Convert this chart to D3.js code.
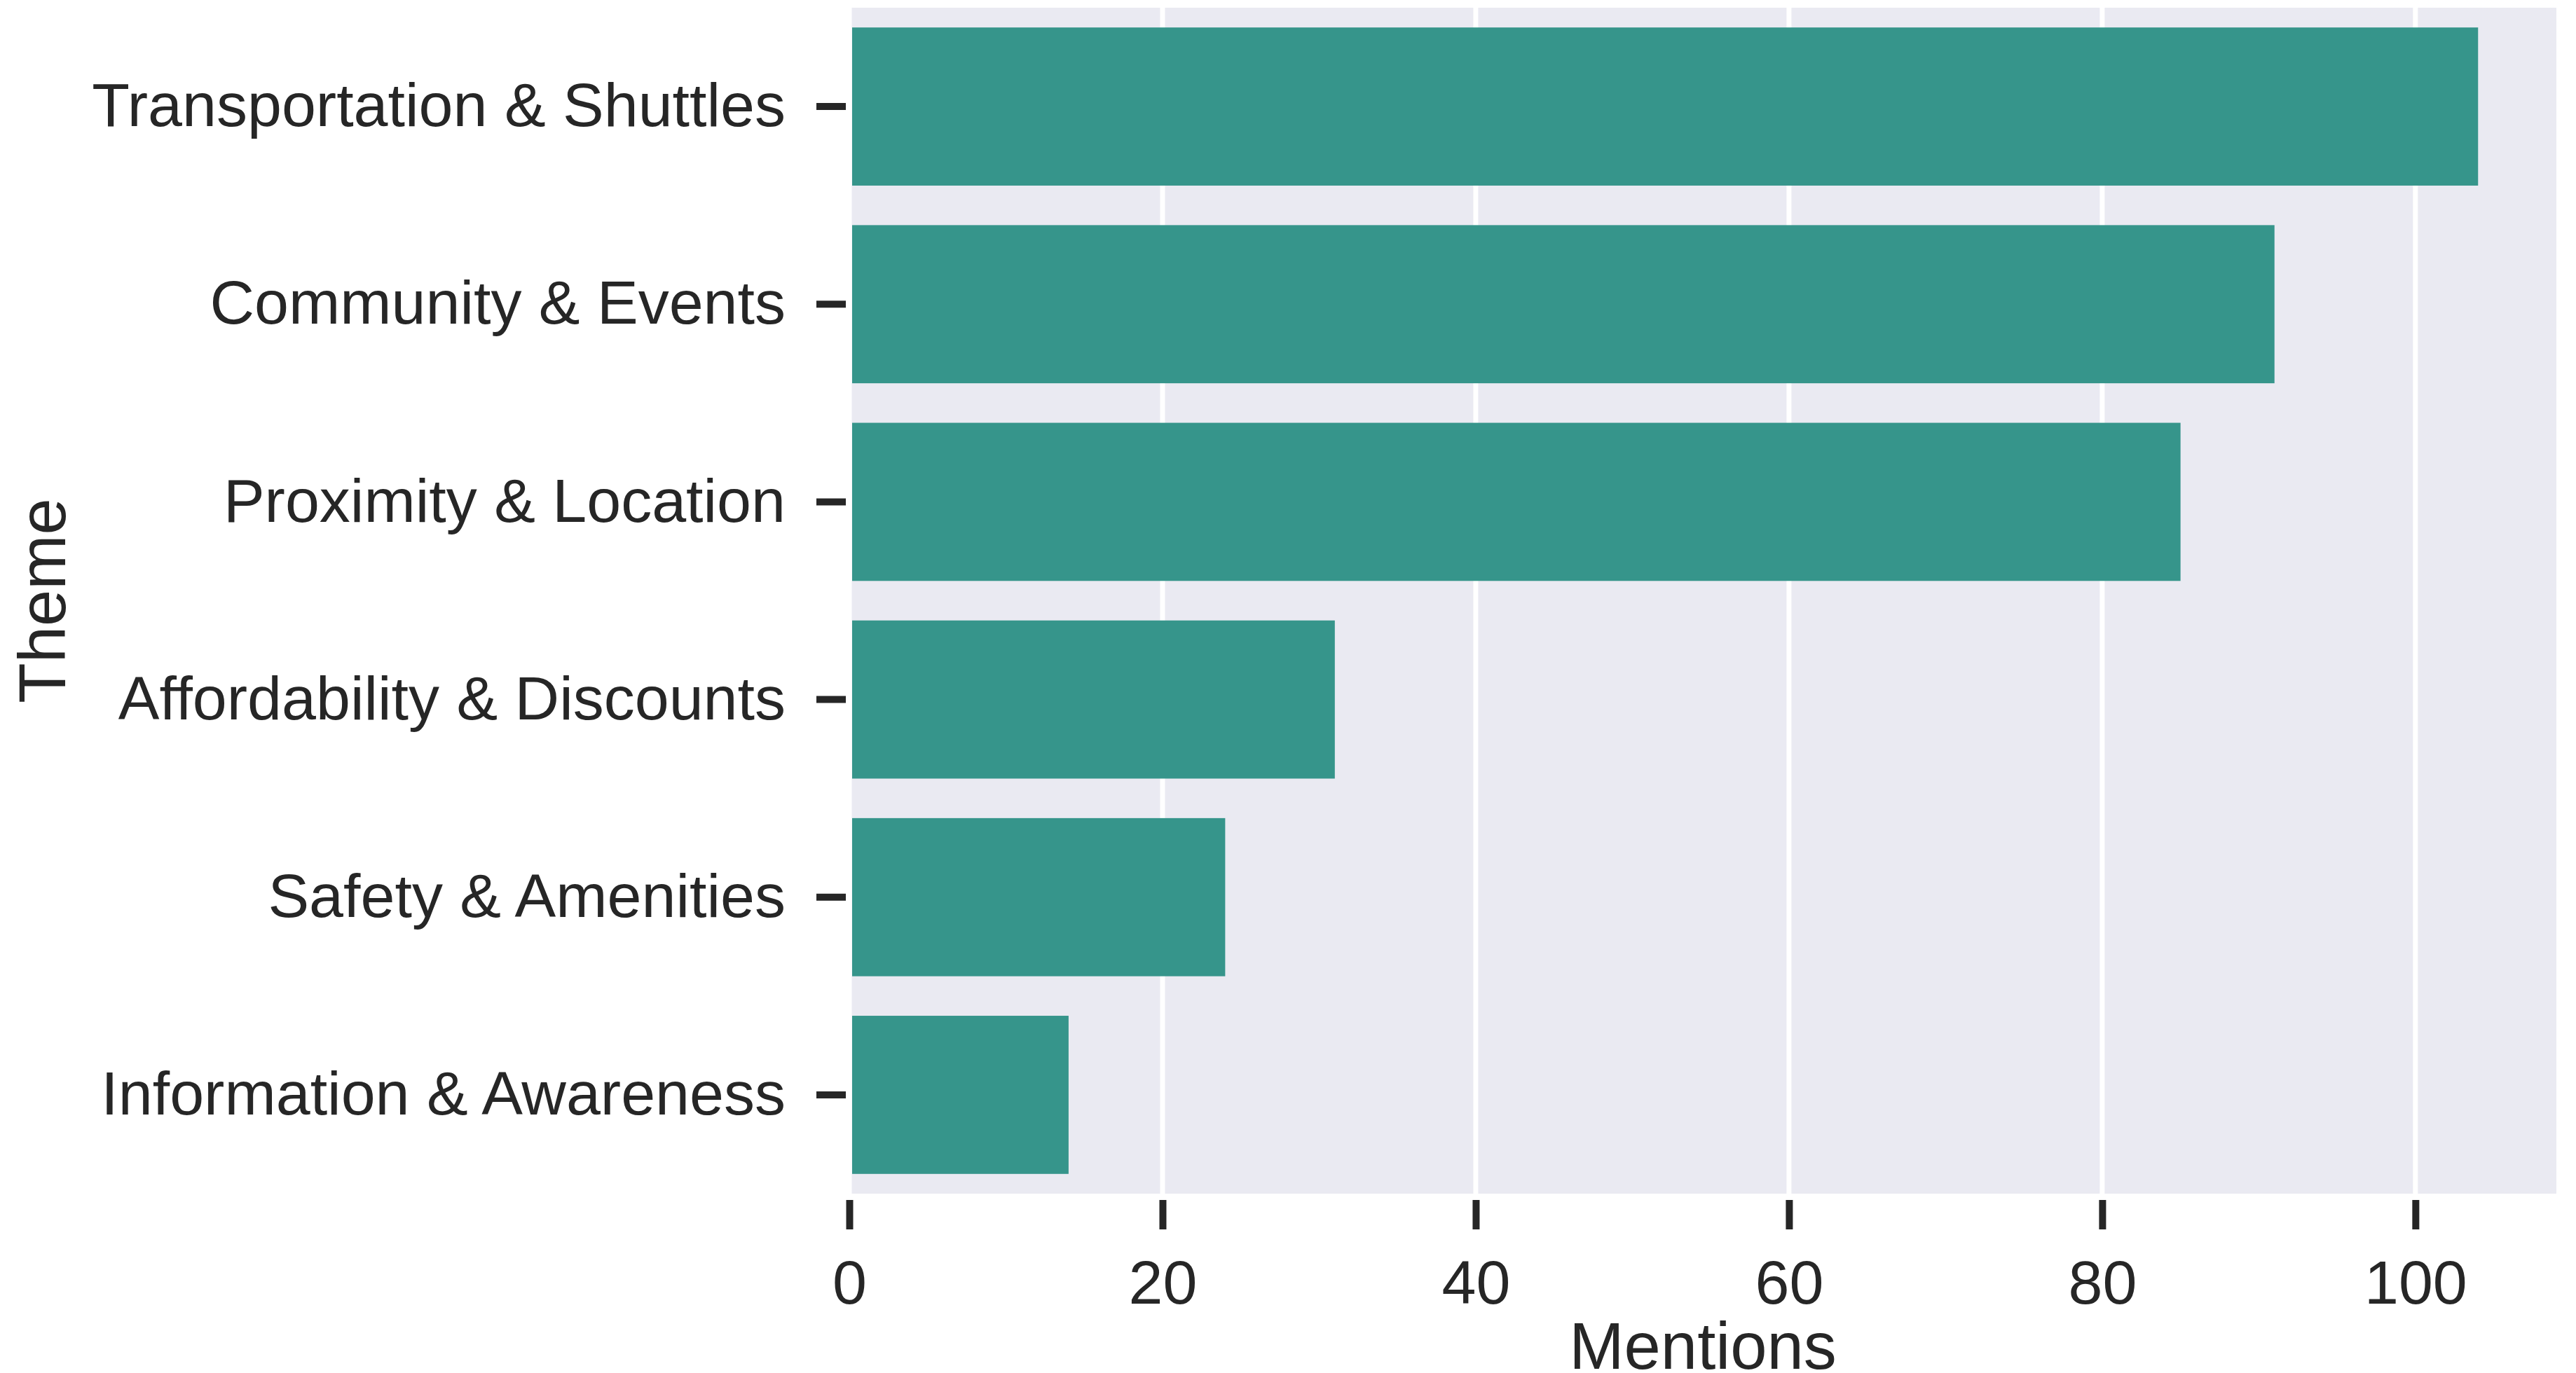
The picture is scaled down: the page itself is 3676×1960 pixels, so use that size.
<!DOCTYPE html>
<html>
<head>
<meta charset="utf-8">
<script src="https://d3js.org/d3.v7.min.js"></script>
<style>
	body { margin: 0; background: #ffffff; }
	svg { display: block; }
	text { font-family: "Liberation Sans", Arial, sans-serif; fill: #262626; }
</style>
</head>
<body>
<div id="chart"></div>
<script>
var themes = [
	'Transportation & Shuttles',
	'Community & Events',
	'Proximity & Location',
	'Affordability & Discounts',
	'Safety & Amenities',
	'Information & Awareness'
];
var mentions = [104, 91, 85, 31, 24, 14];
var xTicks = [0, 20, 40, 60, 80, 100];

function drawMentionsChart(){
	var width = 3676;
	var height = 1960;
	var left = 1212;
	var right = 3648;
	var top = 11;
	var bottom = 1704;
	var barColor = '#36958b';
	var textColor = '#262626';

	var dataset = themes.map(function(t, i){
		return {label: t, count: mentions[i]};
	});

	var svg = d3.select('#chart')
		.append('svg')
		.attr('width', width)
		.attr('height', height);

	var x = d3.scaleLinear()
		.domain([0, 109])
		.range([left, right]);

	var y = d3.scaleBand()
		.domain(themes)
		.range([top, bottom])
		.paddingInner(0.2)
		.paddingOuter(0.1);

	// plot background
	svg.append('rect')
		.attr('x', left)
		.attr('y', top)
		.attr('width', right - left)
		.attr('height', bottom - top)
		.attr('fill', '#eaeaf2');

	// vertical grid lines
	svg.append('g')
		.selectAll('line')
		.data(xTicks)
		.enter()
		.append('line')
		.attr('x1', function(d){ return x(d); })
		.attr('x2', function(d){ return x(d); })
		.attr('y1', top)
		.attr('y2', bottom)
		.attr('stroke', '#ffffff')
		.attr('stroke-width', 7);

	svg.append('g')
		.selectAll('rect')
		.data(dataset)
		.enter()
		.append('rect')
		.attr('x', x(0) + 4)
		.attr('y', function(d){ return y(d.label); })
		.attr('width', function(d){ return x(d.count) - x(0) - 4; })
		.attr('height', y.bandwidth())
		.attr('fill', barColor);

	var xAxis = svg.append('g')
		.attr('transform', 'translate(0,' + (bottom + 9) + ')')
		.call(d3.axisBottom(x).tickValues(xTicks).tickSize(42).tickSizeOuter(0).tickPadding(44));

	xAxis.select('.domain').remove();
	xAxis.selectAll('.tick line')
		.attr('stroke', textColor)
		.attr('stroke-width', 10);
	xAxis.selectAll('.tick text')
		.style('font-size', '88px')
		.attr('fill', textColor);

	var yAxis = svg.append('g')
		.attr('transform', 'translate(' + (left - 5) + ',0)')
		.call(d3.axisLeft(y).tickSize(42).tickSizeOuter(0).tickPadding(44));

	yAxis.select('.domain').remove();
	yAxis.selectAll('.tick line')
		.attr('stroke', textColor)
		.attr('stroke-width', 10);
	yAxis.selectAll('.tick text')
		.style('font-size', '88px')
		.attr('fill', textColor);

	// x label sits right at the bottom edge, like the source
	svg.append('text')
		.attr('x', (left + right) / 2)
		.attr('y', 1954)
		.attr('text-anchor', 'middle')
		.style('font-size', '94px')
		.text('Mentions');

	svg.append('text')
		.attr('transform', 'translate(93,' + ((top + bottom) / 2) + ') rotate(-90)')
		.attr('text-anchor', 'middle')
		.style('font-size', '94px')
		.text('Theme');
}
drawMentionsChart();
</script>
</body>
</html>
